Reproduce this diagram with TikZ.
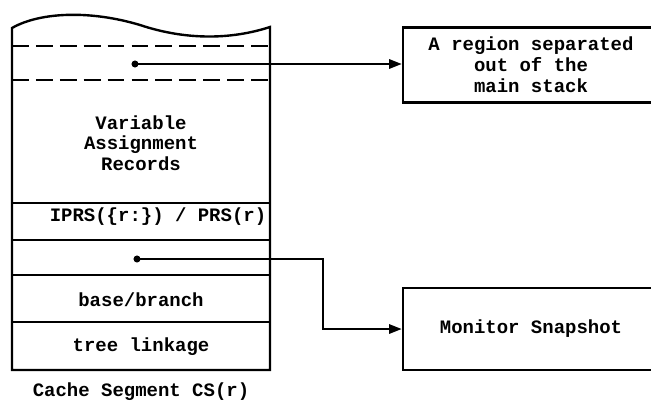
\documentclass[tikz,border=0pt]{standalone}
\usepackage{fontspec}
\setmonofont{Liberation Mono}
\usepackage{tikz}
\usetikzlibrary{arrows.meta, positioning, calc}

\begin{document}
\begin{tikzpicture}[x=0.025cm, y=-0.025cm, line width=1.7pt,
    font=\ttfamily\bfseries\fontsize{13.5}{15}\selectfont,
    link/.style={-{Triangle[length=9pt,width=6.5pt]}},
    outbox/.style={draw, minimum width=256*0.025cm, align=center},
    cut/.style={dash pattern=on 12pt off 5pt}]
    \def\sl{12}
    \def\sr{270}
    \def\sb{370}
    \clip (0,0) rectangle (651,401);
    % the stack segment
    \draw (\sl,\sb) -- (\sl,28) .. controls (40,12) and (90,10) .. (140,25)
        .. controls (185,40) and (230,40) .. (\sr,27) -- (\sr,\sb) -- cycle;
    \draw[cut] (\sl,46) -- (\sr,46);
    \draw[cut] (\sl,80) -- (\sr,80);
    \foreach \y in {203,240,275,322}
        \draw (\sl,\y) -- (\sr,\y);
    \node (var) at (141,143) [align=center, font=\ttfamily\bfseries\fontsize{13.5}{14.5}\selectfont] {Variable\\Assignment\\Records};
    \node (prs) at (158,217) {IPRS(\{r:\}) / PRS(r)};
    \node (base) at (141,300) {base/branch};
    \node (tree) at (141,347) {tree linkage};
    \node (cap) at (141,392) {Cache Segment CS(r)};
    % pointers
    \coordinate (d1) at (135,64);
    \coordinate (d2) at (137,259);
    \fill (d1) circle[radius=2.5pt];
    \fill (d2) circle[radius=2.5pt];
    \node (region) at (531,65) [outbox, minimum height=75*0.025cm] {A region separated\\out of the\\main stack};
    \node (snap) at (531,329) [outbox, minimum height=82*0.025cm] {Monitor Snapshot};
    \coordinate (bend) at (323,0);
    \draw[link] (d1) -- (d1 -| region.west);
    \draw[link] (d2) -- (d2 -| bend) |- (snap.west);
\end{tikzpicture}
\end{document}
